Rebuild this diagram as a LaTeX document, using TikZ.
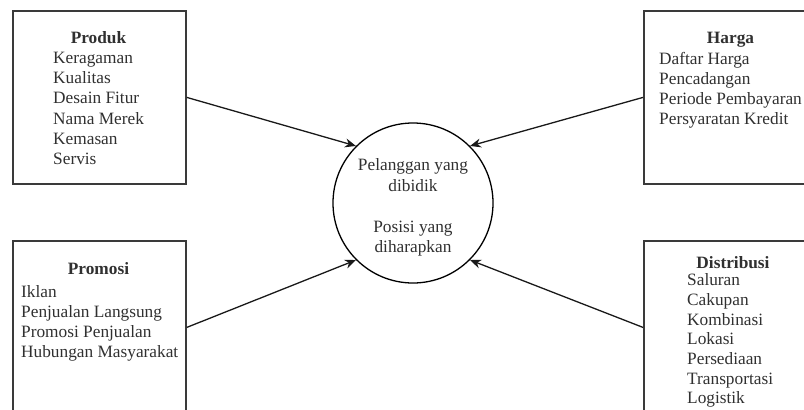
\documentclass[tikz,border=0pt]{standalone}
\usepackage{fontspec}
\setmainfont{Liberation Serif}
\usetikzlibrary{arrows.meta}
\definecolor{boxline}{HTML}{3A3A3A}
\definecolor{txt}{HTML}{303030}
\begin{document}
\begin{tikzpicture}[x=1pt,y=-1pt,
  mixbox/.style={draw=boxline,line width=1.8pt,minimum width=173pt,minimum height=173pt,inner sep=0pt,anchor=north west},
  ttl/.style={font=\fontsize{17.3}{20.5}\selectfont\bfseries,text=txt,inner sep=0pt,anchor=base},
  lst/.style={font=\fontsize{17.3}{20.2}\selectfont,text=txt,inner sep=0pt,align=left,anchor=north west},
  ctr/.style={font=\fontsize{17.3}{20.5}\selectfont,text=txt,inner sep=0pt,align=center},
  conn/.style={draw=black!90,line width=1.3pt,-{Stealth[length=11pt,width=9pt]}}]
\useasboundingbox (0,0) rectangle (804,410);
\begin{scope}
\clip (0,0) rectangle (804,410);
\node[mixbox] (produk) at (12,10) {};
\node[mixbox] (harga) at (643,10) {};
\node[mixbox] (promosi) at (12,240) {};
\node[mixbox] (distribusi) at (643,240) {};
\end{scope}
\node[draw=black,line width=1.3pt,circle,minimum size=160pt,inner sep=0pt] (target) at (413,203) {};

\node[ttl] (produkt) at (98.5,43.6) {Produk};
\node[lst] (produkl) at (53,52) {Keragaman\\Kualitas\\Desain Fitur\\Nama Merek\\Kemasan\\Servis};

\node[ttl] (hargat) at (730.5,43.6) {Harga};
\node[lst] (hargal) at (659,52) {Daftar Harga\\Pencadangan\\Periode Pembayaran\\Persyaratan Kredit};

\node[ttl] (promosit) at (98.5,274) {Promosi};
\node[lst] (promosil) at (21,285) {Iklan\\Penjualan Langsung\\Promosi Penjualan\\Hubungan Masyarakat};

\node[ttl] (distribusit) at (733,268.5) {Distribusi};
\node[lst,font=\fontsize{17.3}{19.7}\selectfont] (distribusil) at (687,273.5) {Saluran\\Cakupan\\Kombinasi\\Lokasi\\Persediaan\\Transportasi\\Logistik};

\node[ctr] (ctext) at (413,207.6) {Pelanggan yang\\dibidik\\[20.5pt]Posisi yang\\diharapkan};

\draw[conn] (produk.east) -- (target.north west);
\draw[conn] (harga.west) -- (target.north east);
\draw[conn] (promosi.east) -- (target.south west);
\draw[conn] (distribusi.west) -- (target.south east);
\end{tikzpicture}
\end{document}
